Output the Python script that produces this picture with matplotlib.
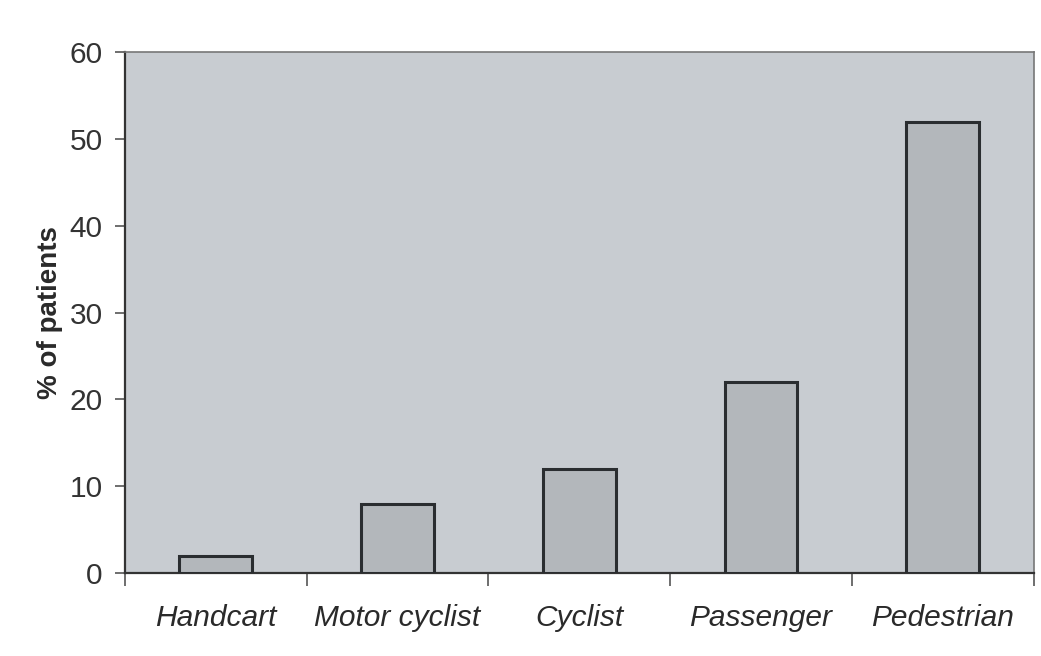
import matplotlib.pyplot as plt
import numpy as np

plt.rcParams["font.family"] = ["Liberation Sans", "DejaVu Sans"]

categories = ["Handcart", "Motor cyclist", "Cyclist", "Passenger", "Pedestrian"]
values = [2, 8, 12, 22, 52]
yticks = [0, 10, 20, 30, 40, 50, 60]

fig = plt.figure(figsize=(10.41, 6.56), dpi=100)
ax = fig.add_axes([0.120, 0.1265, 0.873, 0.794])
ax.set_facecolor("#c8ccd1")

x = np.arange(len(categories))
ax.bar(x, values, width=0.4, color="#b3b7bb", edgecolor="#2a2d30", linewidth=2.2, zorder=3)

ax.set_xlim(-0.5, len(categories) - 0.5)
ax.set_ylim(0, 60)
ax.set_yticks(yticks)
ax.set_yticklabels([str(v) for v in yticks], fontsize=21.5, color="#333333")

# category labels without ticks, tick marks at boundaries
ax.set_xticks(x)
ax.set_xticklabels(categories, fontsize=21.5, style="italic", color="#2a2a2a")
ax.tick_params(axis="x", length=0, pad=22)
ax.set_xticks(np.arange(-0.5, len(categories)), minor=True)
ax.tick_params(axis="x", which="minor", length=9, width=1.2, color="#555555")
ax.tick_params(axis="y", length=7, width=1.2, color="#555555", pad=9)

for s in ["left", "bottom"]:
    ax.spines[s].set_linewidth(1.6)
    ax.spines[s].set_color("#333333")
for s in ["top", "right"]:
    ax.spines[s].set_linewidth(1.2)
    ax.spines[s].set_color("#777777")

ax.set_ylabel("% of patients", fontsize=20, fontweight="bold", color="#2a2a2a", labelpad=5)

plt.savefig("out.png", dpi=100)
